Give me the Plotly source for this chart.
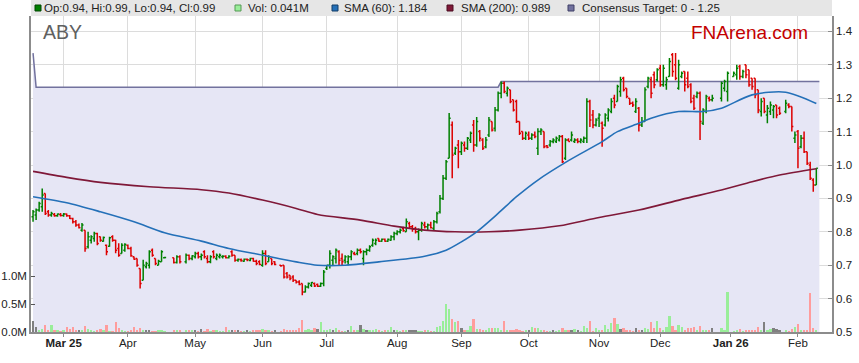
import pandas as pd
import plotly.graph_objects as go

# ---------------- data ----------------
holidays = ["2025-04-18", "2025-04-21", "2025-04-25", "2025-06-09",
            "2025-12-25", "2025-12-26", "2026-01-01", "2026-01-26"]
dates = [d for d in pd.bdate_range("2025-02-17", "2026-02-10")
         if d.strftime("%Y-%m-%d") not in holidays]

opens = [
    .845, .85, .865, .875, .915, .86, .85, .852, .848, .852,
    .849, .853, .848, .84, .83, .82, .805, .805, .755, .775, .78, .795, .785, .772, .76, .757, .785, .775, .75, .735, .745,
    .76, .75, .725, .72, .69, .655, .695, .70, .745, .72, .70, .71, .722, .722, .708, .725, .71, .73, .72,
    .725, .735, .725, .74, .72, .71, .74, .72, .725, .725, .727, .722, .74, .73, .715, .716, .712, .718, .714, .72, .712, .71,
    .70, .735, .71, .72, .71, .70, .70, .675, .67, .665, .655, .65, .645, .62, .635, .64, .645, .642, .637, .645,
    .69, .70, .715, .72, .74, .72, .715, .71, .725, .735, .735, .745, .72, .74, .745, .76, .765, .78, .772, .778, .772, .775, .785,
    .795, .80, .81, .80, .825, .815, .81, .80, .805, .82, .815, .82, .81, .83, .86, .90, .96, 1.02, 1.12, 1.035, 1.06,
    1.04, 1.06, 1.05, 1.075, 1.12, 1.06, 1.10, 1.075, 1.055, 1.09, 1.13, 1.11, 1.165, 1.215, 1.245, 1.215, 1.225, 1.195, 1.19, 1.13, 1.10, 1.08,
    1.09, 1.08, 1.09, 1.05, 1.10, 1.10, 1.058, 1.06, 1.07, 1.07, 1.075, 1.085, 1.02, 1.075, 1.075, 1.07, 1.075, 1.07, 1.07, 1.08, 1.19, 1.15, 1.12,
    1.14, 1.125, 1.12, 1.14, 1.16, 1.20, 1.19, 1.22, 1.26, 1.23, 1.20, 1.185, 1.16, 1.17, 1.12, 1.13, 1.235, 1.255, 1.27, 1.255,
    1.29, 1.24, 1.24, 1.265, 1.33, 1.30, 1.23, 1.265, 1.28, 1.26, 1.24, 1.20, 1.205, 1.215, 1.125, 1.16, 1.20, 1.195, 1.20, 1.23, 1.22,
    1.265, 1.27, 1.295, 1.265, 1.30, 1.285, 1.26, 1.26, 1.225, 1.16, 1.20, 1.15, 1.16, 1.165, 1.18, 1.17, 1.16, 1.18, 1.175, 1.08,
    1.10, 1.055, 1.08, 1.04, 1.0, .955, .94,
]
highs = [
    .865, .87, .89, .93, .915, .865, .86, .856, .855, .856,
    .856, .855, .85, .842, .835, .825, .826, .805, .80, .79, .80, .797, .786, .786, .762, .785, .79, .776, .766, .766, .766,
    .762, .755, .726, .72, .69, .716, .71, .745, .75, .72, .716, .745, .725, .722, .73, .73, .735, .732, .73,
    .74, .74, .735, .745, .73, .73, .745, .735, .735, .73, .73, .73, .745, .73, .72, .72, .72, .72, .722, .722, .716, .715,
    .745, .745, .73, .72, .712, .70, .70, .68, .67, .67, .655, .655, .645, .64, .648, .65, .648, .645, .648, .686,
    .70, .745, .73, .75, .745, .735, .73, .73, .745, .74, .75, .75, .745, .75, .76, .78, .78, .78, .78, .78, .78, .79, .80,
    .805, .81, .815, .84, .83, .82, .815, .81, .83, .83, .825, .83, .835, .86, .91, .97, 1.015, 1.156, 1.13, 1.055, 1.075,
    1.07, 1.07, 1.084, 1.10, 1.135, 1.144, 1.105, 1.08, 1.084, 1.144, 1.13, 1.174, 1.22, 1.25, 1.25, 1.235, 1.225, 1.195, 1.195, 1.13, 1.10, 1.10,
    1.10, 1.095, 1.10, 1.11, 1.11, 1.10, 1.06, 1.075, 1.08, 1.085, 1.09, 1.09, 1.08, 1.08, 1.10, 1.08, 1.08, 1.08, 1.085, 1.20, 1.195, 1.165, 1.14,
    1.155, 1.13, 1.155, 1.17, 1.20, 1.21, 1.24, 1.264, 1.264, 1.23, 1.20, 1.19, 1.20, 1.174, 1.144, 1.233, 1.264, 1.264, 1.28, 1.29,
    1.30, 1.30, 1.264, 1.32, 1.335, 1.335, 1.315, 1.28, 1.28, 1.28, 1.245, 1.21, 1.22, 1.22, 1.17, 1.21, 1.205, 1.21, 1.25, 1.255, 1.28,
    1.28, 1.30, 1.30, 1.285, 1.30, 1.285, 1.26, 1.26, 1.225, 1.20, 1.20, 1.18, 1.19, 1.18, 1.18, 1.175, 1.195, 1.185, 1.175, 1.10,
    1.105, 1.09, 1.10, 1.04, 1.01, .96, .99,
]
lows = [
    .83, .835, .86, .86, .85, .845, .845, .845, .845, .846,
    .845, .845, .838, .825, .815, .81, .80, .74, .75, .765, .77, .76, .77, .77, .73, .755, .77, .736, .725, .735, .74,
    .748, .725, .716, .695, .63, .655, .69, .69, .725, .70, .70, .71, .72, .705, .705, .705, .705, .715, .715,
    .72, .72, .715, .72, .706, .706, .72, .715, .72, .72, .72, .72, .725, .71, .71, .71, .71, .712, .712, .71, .70, .70,
    .695, .70, .71, .70, .70, .695, .66, .66, .655, .65, .645, .64, .61, .618, .63, .635, .635, .635, .635, .637,
    .686, .69, .70, .705, .70, .70, .705, .70, .715, .73, .73, .735, .70, .73, .74, .755, .76, .77, .77, .77, .77, .773, .775,
    .79, .795, .80, .80, .81, .80, .795, .775, .80, .81, .805, .81, .805, .825, .855, .895, .955, 1.02, .96, 1.03, .99,
    1.03, 1.04, 1.045, 1.066, 1.04, 1.055, 1.07, 1.045, 1.05, 1.084, 1.10, 1.10, 1.16, 1.20, 1.215, 1.205, 1.185, 1.16, 1.126, 1.09, 1.075, 1.075,
    1.075, 1.075, 1.08, 1.03, 1.09, 1.05, 1.05, 1.055, 1.065, 1.066, 1.07, 1.006, 1.015, 1.07, 1.07, 1.066, 1.065, 1.065, 1.066, 1.066, 1.114, 1.11, 1.115,
    1.114, 1.055, 1.115, 1.13, 1.155, 1.17, 1.19, 1.204, 1.22, 1.20, 1.18, 1.174, 1.156, 1.10, 1.114, 1.13, 1.23, 1.20, 1.23, 1.25,
    1.234, 1.234, 1.225, 1.264, 1.264, 1.254, 1.225, 1.26, 1.22, 1.23, 1.185, 1.165, 1.20, 1.075, 1.12, 1.155, 1.19, 1.19, 1.19, 1.22, 1.19,
    1.265, 1.255, 1.255, 1.26, 1.26, 1.234, 1.225, 1.20, 1.155, 1.145, 1.155, 1.125, 1.15, 1.14, 1.14, 1.15, 1.155, 1.17, 1.10, 1.066,
    .99, 1.05, 1.036, 1.0, .955, .92, .94,
]
closes = [
    .86, .865, .885, .91, .855, .85, .855, .848, .853, .849,
    .853, .848, .84, .83, .82, .812, .82, .75, .785, .785, .795, .765, .775, .783, .74, .782, .775, .745, .73, .76, .762,
    .75, .728, .718, .70, .645, .70, .705, .74, .73, .705, .712, .74, .723, .708, .725, .71, .73, .72, .728,
    .735, .725, .73, .725, .71, .725, .725, .73, .73, .727, .722, .727, .73, .715, .718, .714, .718, .716, .72, .712, .705, .702,
    .735, .705, .725, .705, .702, .698, .665, .665, .66, .655, .65, .642, .62, .635, .645, .648, .638, .637, .645, .68,
    .70, .735, .725, .745, .715, .71, .725, .725, .74, .732, .745, .74, .74, .745, .755, .775, .775, .772, .778, .772, .778, .785, .795,
    .80, .805, .803, .83, .815, .808, .80, .805, .825, .815, .82, .812, .83, .855, .90, .96, 1.01, 1.14, 1.03, 1.05, 1.04,
    1.065, 1.05, 1.08, 1.095, 1.06, 1.13, 1.08, 1.05, 1.075, 1.135, 1.105, 1.165, 1.215, 1.245, 1.22, 1.23, 1.19, 1.165, 1.13, 1.095, 1.08, 1.095,
    1.08, 1.09, 1.085, 1.10, 1.105, 1.055, 1.053, 1.07, 1.075, 1.08, 1.085, 1.01, 1.075, 1.07, 1.09, 1.075, 1.07, 1.075, 1.08, 1.19, 1.135, 1.12, 1.135,
    1.15, 1.11, 1.15, 1.165, 1.19, 1.18, 1.235, 1.255, 1.225, 1.205, 1.185, 1.18, 1.19, 1.12, 1.13, 1.225, 1.26, 1.215, 1.24, 1.285,
    1.24, 1.29, 1.255, 1.31, 1.28, 1.26, 1.30, 1.275, 1.24, 1.235, 1.19, 1.17, 1.215, 1.13, 1.165, 1.205, 1.195, 1.20, 1.245, 1.25, 1.275,
    1.275, 1.29, 1.265, 1.28, 1.27, 1.24, 1.235, 1.21, 1.165, 1.19, 1.16, 1.17, 1.18, 1.175, 1.15, 1.155, 1.185, 1.175, 1.115, 1.09,
    1.05, 1.08, 1.04, 1.005, .96, .94, .99,
]
volume_m = [
    .20, .095, .04, .06, .125, .04, .13, .04, .02, .015,
    .02, .09, .06, .095, .03, .03, .02, .11, .06, .02, .01, .03, .05, .02, .125, .01, .015, .17, .08, .02, .01,
    .01, .02, .09, .04, .08, .02, .02, .03, .01, .01, .02, .02, .01, .03, .03, .02, .03, .02, .04,
    .03, .01, .06, .01, .06, .01, .02, .02, .015, .01, .09, .04, .035, .04, .02, .01, .01, .04, .01, .04, .04, .03,
    .06, .02, .02, .015, .02, .01, .06, .04, .04, .02, .04, .065, .21, .03, .05, .02, .065, .05, .17, .02,
    .02, .05, .036, .065, .018, .01, .01, .036, .11, .036, .018, .125, .05, .02, .04, .04, .05, .018, .01, .02, .02, .095, .036,
    .018, .01, .018, .018, .018, .018, .018, .01, .01, .018, .018, .01, .01, .09, .11, .2, .5, .41, .23, .17, .19,
    .065, .036, .036, .11, .23, .05, .05, .018, .018, .065, .08, .08, .065, .036, .19, .018, .036, .018, .05, .036, .01, .018,
    .018, .095, .065, .08, .018, .018, .01, .01, .018, .01, .036, .065, .018, .036, .036, .05, .018, .01, .11, .08, .19, .01, .065,
    .036, .036, .125, .05, .16, .25, .15, .05, .065, .018, .018, .01, .065, .018, .036, .065, .05, .17, .065, .2,
    .065, .036, .095, .285, .11, .018, .125, .095, .018, .065, .065, .095, .018, .11, .018, .018, .018, .065, .065, .036, .72,
    .01, .036, .05, .01, .036, .036, .036, .036, .095, .036, .17, .018, .05, .065, .05, .036, .036, .01, .05, .095,
    .15, .036, .036, .036, .7, .065, .041,
]
gray_volume_days = ["2025-02-17", "2025-02-18", "2025-03-10", "2025-04-09", "2025-04-10",
                    "2025-05-01", "2025-05-05", "2025-05-19", "2025-05-21", "2025-05-26",
                    "2025-06-06", "2025-06-26", "2025-07-03", "2025-07-10", "2025-07-16",
                    "2025-07-18", "2025-07-31", "2025-08-07", "2025-08-08", "2025-08-11",
                    "2025-09-01", "2025-10-01", "2025-10-13", "2025-10-21", "2025-10-23",
                    "2025-11-12", "2025-11-19", "2025-11-21", "2025-12-24", "2026-01-16",
                    "2026-01-21", "2026-01-22", "2026-01-23"]

sma60_dates = ["2025-02-17", "2025-03-04", "2025-03-19", "2025-04-03", "2025-04-17", "2025-05-05",
               "2025-05-16", "2025-06-02", "2025-06-17", "2025-06-26", "2025-07-09", "2025-07-24",
               "2025-08-14", "2025-08-25", "2025-09-01", "2025-09-08", "2025-09-17", "2025-09-25",
               "2025-10-06", "2025-10-20", "2025-11-04", "2025-11-11", "2025-11-20", "2025-11-26",
               "2025-12-09", "2025-12-19", "2025-12-29", "2026-01-12", "2026-01-27", "2026-02-10"]
sma60 = [0.905, 0.887, 0.86, 0.83, 0.797, 0.772,
         0.75, 0.73, 0.71, 0.70, 0.70, 0.71,
         0.727, 0.745, 0.77, 0.80, 0.855, 0.905,
         0.955, 1.013, 1.07, 1.10, 1.125, 1.14,
         1.16, 1.16, 1.17, 1.21, 1.218, 1.184]

sma200_dates = ["2025-02-17", "2025-03-04", "2025-03-19", "2025-04-10", "2025-05-05", "2025-05-16",
                "2025-06-02", "2025-06-17", "2025-06-26", "2025-07-16", "2025-07-31", "2025-08-14",
                "2025-08-28", "2025-09-12", "2025-09-26", "2025-10-15", "2025-11-03", "2025-11-20",
                "2025-12-10", "2025-12-29", "2026-01-12", "2026-01-23", "2026-02-10"]
sma200 = [0.981, 0.963, 0.948, 0.935, 0.926, 0.916,
          0.895, 0.87, 0.852, 0.835, 0.817, 0.805,
          0.80, 0.80, 0.805, 0.818, 0.843, 0.865,
          0.897, 0.925, 0.95, 0.97, 0.989]

target_dates = ["2025-02-17", "2025-02-18", "2025-09-17", "2025-09-18", "2026-02-11"]
target = [1.335, 1.233, 1.233, 1.25, 1.25]

month_ticks = ["2025-03-03", "2025-04-01", "2025-05-01", "2025-06-02", "2025-07-01", "2025-08-01",
               "2025-09-01", "2025-10-01", "2025-11-03", "2025-12-01", "2026-01-01", "2026-02-02"]
month_labels = ["<b>Mar 25</b>", "Apr", "May", "Jun", "Jul", "Aug",
                "Sep", "Oct", "Nov", "Dec", "<b>Jan 26</b>", "Feb"]

price_ticks = [0.5, 0.6, 0.7, 0.8, 0.9, 1.0, 1.1, 1.2, 1.3, 1.4]
vol_ticks = [0.0, 0.5, 1.0]

n = len(dates)
assert all(len(a) == n for a in (opens, highs, lows, closes, volume_m)), n

# ---------------- styling ----------------
FONT = "Liberation Sans, Arial, sans-serif"
GREEN = "#008000"
RED = "#dd0000"
VOL_UP = "#99ee99"
VOL_DN = "#ff9c9c"
VOL_FLAT = "#808080"
BLUE = "#2470b8"
MAROON = "#7f1838"
TARGET = "#72729e"
LAVENDER = "#e6e6f5"

W, H = 859, 363
L, R, T, B = 31, 832, 16, 332


def px(x):
    return (x - L) / (R - L)


def py(y):
    return (B - y) / (B - T)


gray_set = set(gray_volume_days)
vol_colors = []
for d, o, c in zip(dates, opens, closes):
    if d.strftime("%Y-%m-%d") in gray_set:
        vol_colors.append(VOL_FLAT)
    elif c >= o:
        vol_colors.append(VOL_UP)
    else:
        vol_colors.append(VOL_DN)

fig = go.Figure()

# consensus target band on the base price axis (drawn first / lowest)
fig.add_trace(go.Scatter(
    x=target_dates, y=target, mode="lines", fill="tozeroy",
    fillcolor=LAVENDER, line=dict(color=TARGET, width=1.5),
    hoverinfo="skip", showlegend=False))

# volume on the left axis
fig.add_trace(go.Bar(
    x=dates, y=volume_m, yaxis="y2", marker=dict(color=vol_colors, line=dict(width=0)),
    width=0.75 * 86400000, showlegend=False, hoverinfo="skip"))

# price marks on an overlaid copy of the price axis, so they sit above the band
fig.add_trace(go.Ohlc(
    x=dates, open=opens, high=highs, low=lows, close=closes, yaxis="y3",
    increasing=dict(line=dict(color=GREEN, width=1.5)),
    decreasing=dict(line=dict(color=RED, width=1.5)),
    tickwidth=0.5, showlegend=False))

fig.add_trace(go.Scatter(
    x=sma200_dates, y=sma200, mode="lines", yaxis="y3",
    line=dict(color=MAROON, width=1.6, shape="spline", smoothing=0.8),
    hoverinfo="skip", showlegend=False))

fig.add_trace(go.Scatter(
    x=sma60_dates, y=sma60, mode="lines", yaxis="y3",
    line=dict(color=BLUE, width=1.6, shape="spline", smoothing=0.8),
    hoverinfo="skip", showlegend=False))

price_top = 0.5 + (B - T) / 334.0
vol_top = (B - T) / 56.0

fig.update_layout(
    width=W, height=H,
    margin=dict(l=L, r=W - R, t=T, b=H - B, pad=0, autoexpand=False),
    paper_bgcolor="white", plot_bgcolor="white",
    font=dict(family=FONT, size=11, color="#222222"),
    showlegend=False,
    bargap=0,
    xaxis=dict(
        type="date",
        range=["2025-02-14 08:00", "2026-02-17 03:00"],
        rangebreaks=[dict(bounds=["sat", "mon"])],
        tickvals=month_ticks, ticktext=month_labels,
        showgrid=True, gridcolor="#dcdcdc", gridwidth=1,
        showline=True, linecolor="#8c8c8c", linewidth=1.5,
        ticks="outside", ticklen=3, tickcolor="#8c8c8c",
        ticklabelstandoff=-4,
        tickfont=dict(size=11.5, color="#222222"),
        rangeslider=dict(visible=False), fixedrange=True, zeroline=False,
        automargin=False,
    ),
    yaxis=dict(
        side="right", range=[0.5, price_top],
        tickvals=price_ticks, tickformat=".1f",
        showgrid=True, gridcolor="#dcdcdc", gridwidth=1,
        showline=True, linecolor="#8c8c8c", linewidth=1.5,
        ticks="inside", ticklen=4, tickcolor="#8c8c8c",
        tickfont=dict(size=11.5, color="#222222"),
        zeroline=False, fixedrange=True, automargin=False,
    ),
    yaxis2=dict(
        overlaying="y", side="left", range=[0, vol_top],
        tickvals=vol_ticks, ticktext=[f"{v:.1f}M" for v in vol_ticks],
        showgrid=False,
        showline=True, linecolor="#8c8c8c", linewidth=1.5,
        ticks="inside", ticklen=4, tickcolor="#555555",
        tickfont=dict(size=11.5, color="#222222"),
        zeroline=False, fixedrange=True, automargin=False,
    ),
    yaxis3=dict(
        overlaying="y", side="right", range=[0.5, price_top],
        visible=False, showgrid=False, zeroline=False, fixedrange=True,
        automargin=False,
    ),
)

# legend bar across the top
shapes = [dict(type="rect", xref="paper", yref="paper",
               x0=0, x1=1, y0=py(T), y1=py(0),
               fillcolor="#e6e6e6", line=dict(width=0), layer="above")]
legend_items = [
    (35, GREEN, "#004400",
     f"Op:{opens[-1]:.2f}, Hi:{highs[-1]:.2f}, Lo:{lows[-1]:.2f}, Cl:{closes[-1]:.2f}", 42),
    (235, VOL_UP, "#559955", f"Vol: {volume_m[-1]:.3f}M", 246),
    (332, BLUE, "#123d66", f"SMA (60): {sma60[-1]:.3f}", 342),
    (447, MAROON, "#4a0c20", f"SMA (200): {sma200[-1]:.3f}", 459),
    (568, TARGET, "#3e3e66", f"Consensus Target: 0 - {target[-1]:.2f}", 580),
]
annotations = []
for sx, fc, lc, txt, tx in legend_items:
    shapes.append(dict(type="rect", xref="paper", yref="paper",
                       x0=px(sx), x1=px(sx + 6), y0=py(11), y1=py(5),
                       fillcolor=fc, line=dict(color=lc, width=1), layer="above"))
    annotations.append(dict(xref="paper", yref="paper", x=px(tx), y=py(8),
                            xanchor="left", yanchor="middle", showarrow=False,
                            text=txt, font=dict(family=FONT, size=11.5, color="#222222")))

annotations.append(dict(xref="paper", yref="paper", x=px(41), y=py(32),
                        xanchor="left", yanchor="middle", showarrow=False,
                        text="ABY", font=dict(family=FONT, size=19.5, color="#606060")))
annotations.append(dict(xref="paper", yref="paper", x=px(810), y=py(32),
                        xanchor="right", yanchor="middle", showarrow=False,
                        text="FNArena.com",
                        font=dict(family=FONT, size=19, color="#c40000")))

fig.update_layout(shapes=shapes, annotations=annotations)

fig.write_html("out.html", config={"displayModeBar": False},
               post_script="document.body.style.margin='0';")
